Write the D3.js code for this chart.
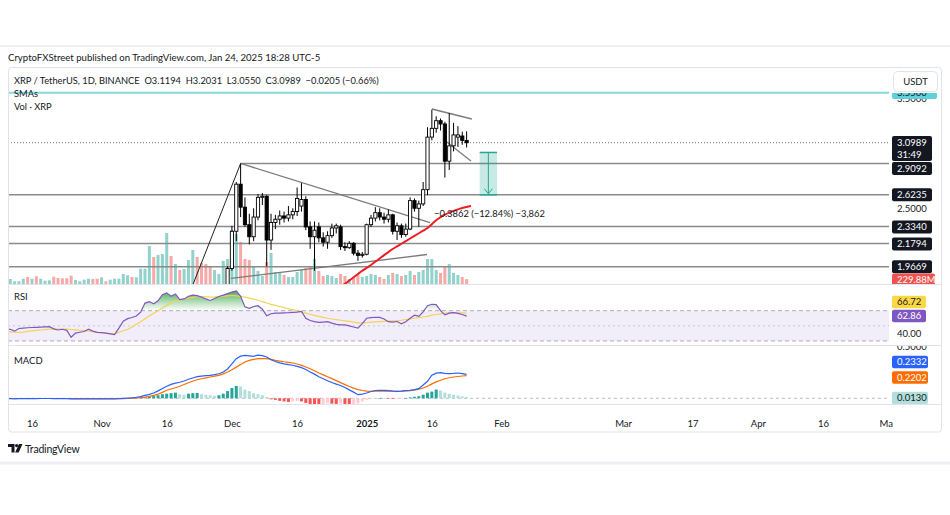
<!DOCTYPE html>
<html><head><meta charset="utf-8">
<script src="https://d3js.org/d3.v7.min.js"></script>
<style>
html,body{margin:0;padding:0;background:#fff;overflow:hidden}
svg{display:block}
text{font-family:Lato,"Noto Sans",sans-serif}
</style></head><body>
<svg id="chart" width="950" height="515"></svg>
<script>
// ---------------- DATA ----------------
const baseDate = "2024-10-10";               // first day of daily series below
const volumes = [250,
 235,127,127,249,329,249,362,249,155,174,
 343,282,268,268,390,188,127,202,249,235,
 249,315,127,202,249,249,470,409,329,315,
 719,719,1786,1269,1363,1410,2397,1316,940,658,
 705,1128,1598,1269,987,940,846,658,470,1081,
 1175,2540,
 2350,1975,1175,1130,846,611,376,1034,1457,564,
 517,423,329,329,564,658,752,846,1175,611,
 376,423,376,282,470,376,235,282,423,329,
 376,470,423,329,235,423,517,470,376,423,
 611,423,564,658,1175,1175,658,517,846,940,
 517,423,329,229.88];
const volDir = "u" + "uuuududuuu" + "ddddduuuud" + "duduuuuudu" + "uuuduuudud" + "uuudddduuu" + "uu" +
  "uddduuuduu" + "uduuuuddud" + "duuudduddu" + "uuuddududu" + "uduuuuuddu" + "uudd";

const candleStart = "2024-11-28";
const opens  = [1.47,1.51,1.73, 1.95,2.29,2.72,2.51,2.35,2.24,2.42,2.60,2.61,2.21,2.37,2.40,2.43,2.41,2.44,2.47,2.52,2.58,2.33,2.24,2.33,2.23,2.19,2.25,2.32,2.33,2.15,2.14,2.18,2.09,2.07,
  2.08,2.35,2.41,2.46,2.42,2.40,2.44,2.29,2.34,2.26,2.31,2.57,2.50,2.54,2.67,3.15,3.23,3.30,3.27,2.93,3.07,3.15,3.16,3.1194];
const highs  = [1.54,1.78,1.97, 2.34,2.74,2.909,2.60,2.45,2.50,2.63,2.64,2.62,2.45,2.44,2.48,2.47,2.52,2.50,2.69,2.73,2.61,2.38,2.38,2.37,2.28,2.29,2.36,2.36,2.35,2.19,2.20,2.19,2.12,2.10,
  2.36,2.44,2.51,2.50,2.46,2.49,2.45,2.37,2.36,2.36,2.60,2.59,2.57,2.74,3.24,3.40,3.34,3.32,3.29,3.37,3.28,3.25,3.20,3.2031];
const lows   = [1.43,1.50,1.71, 1.93,2.20,2.42,2.33,2.17,2.20,2.39,2.53,1.97,2.12,2.31,2.35,2.37,2.38,2.40,2.43,2.47,2.30,2.13,1.93,2.19,2.15,2.13,2.23,2.27,2.12,2.11,2.13,2.07,2.02,2.05,
  2.07,2.33,2.38,2.39,2.36,2.37,2.26,2.21,2.23,2.24,2.30,2.47,2.33,2.52,2.62,3.12,3.19,3.21,2.78,2.85,3.02,3.06,3.08,3.0550];
const closes = [1.51,1.73,1.95, 2.29,2.72,2.51,2.35,2.24,2.42,2.60,2.61,2.21,2.37,2.40,2.43,2.41,2.44,2.47,2.59,2.58,2.33,2.24,2.30,2.23,2.19,2.25,2.32,2.34,2.15,2.14,2.18,2.09,2.07,2.08,
  2.35,2.41,2.46,2.42,2.40,2.44,2.29,2.34,2.26,2.31,2.57,2.50,2.54,2.67,3.15,3.23,3.30,3.27,2.93,3.07,3.17,3.17,3.12,3.0989];

const smaStart = "2024-12-26";
const smaValues = [1.79,1.81,1.84,1.87,1.90,1.93,1.955,1.982,2.012,2.042,2.072,2.10,2.128,2.152,2.176,2.20,2.224,2.248,2.272,2.296,2.32,2.355,2.39,2.42,2.442,2.46,2.476,2.49,2.502,2.512,2.521];

const rsiValues = [44.5,45.5,43,46.5,47,47.5,47.8,48,48.3,48.7,
 49,46,44.5,45.5,44,35,40.5,41.5,42.5,45.5,
 43,41.5,41,40.5,39.5,38.5,47,56,59.5,61,
 63,68,80,82,79,83,91,93.5,89,92,
 84.5,85.5,89,90.5,89.8,88,85.5,83.5,86,88.7,
 90.5,92.5,94.5,96,89,75,73,75.5,76.5,72,
 63.2,66,66.7,66.7,67,67.3,67.7,68,69,60,
 57,55.5,54.5,55,55.5,53.5,52,51.3,51.3,50,
 48.5,47,53,60,60.8,61.3,61.2,59,55.5,55,
 55.7,52.8,55.5,60,64,62.5,68.5,76.5,78.5,78,
 70,64.5,66.8,67.5,66.5,65,62.86];
const rsiMaValues = [42.5,42,41.6,41.2,41.8,42.6,43.4,44,44.5,45.1,
 45.6,45.6,45.6,45.6,45.6,45.2,44.7,44.2,43.6,42.9,
 42.2,41.5,40.9,40.4,39.9,39.5,41.5,43.5,45.3,48.5,
 52,55.5,59.5,63,66.5,70,73.5,77,80.5,82.5,
 84,85.5,86.8,87.6,88.4,88.6,88.3,88,88.2,88.6,
 89.1,89.5,90,89.6,89,88,86.6,85.2,83.8,82,
 80.2,78.4,76.9,75.5,74,72.6,71.3,69.8,68.4,66.8,
 65.3,63.8,62.4,61.2,60,59,58.2,57.4,56.6,55.8,
 55,54,53.8,54.4,54.8,55.1,55.5,55.8,56.1,56.5,
 56.8,57.4,58.3,59.2,60,60.8,61.7,62.6,64.2,65,
 65.8,66.6,67.4,67.6,67.3,67,66.72];

const macdValues = [-0.004,-0.004,-0.005,-0.004,-0.004,-0.003,-0.003,-0.003,-0.002,-0.002,
 -0.002,-0.003,-0.003,-0.004,-0.004,-0.006,-0.006,-0.006,-0.005,-0.005,
 -0.005,-0.005,-0.005,-0.005,-0.005,-0.006,-0.004,-0.001,0.002,0.005,
 0.01,0.017,0.028,0.038,0.052,0.072,0.095,0.117,0.135,0.147,
 0.156,0.168,0.185,0.197,0.21,0.216,0.22,0.223,0.23,0.239,
 0.255,0.285,0.335,0.385,0.41,0.417,0.413,0.408,0.42,0.415,
 0.401,0.375,0.358,0.345,0.335,0.327,0.321,0.31,0.298,0.28,
 0.256,0.235,0.21,0.19,0.17,0.153,0.138,0.124,0.105,0.082,
 0.06,0.035,0.04,0.052,0.066,0.076,0.078,0.078,0.074,0.07,
 0.068,0.07,0.074,0.078,0.085,0.094,0.13,0.165,0.225,0.245,
 0.249,0.242,0.239,0.242,0.246,0.24,0.2332];
const signalValues = [-0.002,-0.002,-0.002,-0.002,-0.002,-0.002,-0.002,-0.002,-0.002,-0.002,
 -0.002,-0.002,-0.002,-0.002,-0.002,-0.003,-0.003,-0.003,-0.003,-0.003,
 -0.003,-0.004,-0.004,-0.004,-0.004,-0.004,-0.004,-0.003,-0.002,0.002,
 0.004,0.007,0.012,0.019,0.028,0.04,0.058,0.078,0.09,0.103,
 0.117,0.134,0.151,0.168,0.18,0.19,0.199,0.207,0.215,0.223,
 0.238,0.255,0.278,0.303,0.328,0.353,0.368,0.378,0.385,0.387,
 0.385,0.378,0.369,0.362,0.355,0.349,0.343,0.333,0.32,0.304,
 0.287,0.268,0.246,0.228,0.209,0.191,0.172,0.152,0.133,0.115,
 0.099,0.084,0.076,0.07,0.068,0.069,0.07,0.071,0.07,0.069,
 0.068,0.069,0.072,0.075,0.08,0.088,0.1,0.117,0.14,0.16,
 0.175,0.19,0.2,0.207,0.212,0.217,0.2202];
const histValues = [-0.003,-0.003,-0.004,-0.003,-0.002,-0.002,-0.003,-0.002,-0.002,-0.001,
 -0.001,-0.002,-0.002,-0.003,-0.003,-0.004,-0.004,-0.003,-0.003,-0.002,
 -0.003,-0.003,-0.002,-0.002,-0.002,-0.003,-0.001,0.002,0.003,0.004,
 0.005,0.008,0.012,0.018,0.022,0.03,0.04,0.045,0.05,0.055,
 0.04,0.035,0.045,0.05,0.052,0.04,0.035,0.03,0.025,0.03,
 0.045,0.07,0.1,0.12,0.115,0.085,0.07,0.05,0.04,0.03,
 0.012,-0.01,-0.015,-0.025,-0.03,-0.035,-0.03,-0.025,-0.03,-0.045,
 -0.055,-0.06,-0.062,-0.055,-0.05,-0.052,-0.055,-0.05,-0.055,-0.06,
 -0.055,-0.05,-0.03,-0.015,-0.008,-0.002,0.003,0.002,-0.003,-0.006,
 -0.004,-0.002,0.002,0.008,0.015,0.02,0.035,0.055,0.065,0.085,
 0.075,0.055,0.045,0.035,0.027,0.019,0.013];

const levels = [2.9092, 2.6235, 2.3340, 2.1794, 1.9669];
const levelStarts = ["2024-12-03", null, null, null, null];
const lastPrice = 3.0989;
const ceilingLevel = 3.5560;
const volumeLabel = "229.88M";
const countdown = "31:49";
const spikeLine = [["2024-11-21", 1.70], ["2024-12-03", 2.9092]];
const triangleUpper = [["2024-12-03", 2.9092], ["2025-01-15T14:00:00Z", 2.368]];
const triangleLower = [["2024-11-30T19:00:00Z", 1.859], ["2025-01-14T21:00:00Z", 2.078]];
const flagUpper = [["2025-01-16", 3.4067], ["2025-01-25T05:00:00Z", 3.3153]];
const flagLower = [["2025-01-18T14:00:00Z", 3.1327], ["2025-01-25T00:00:00Z", 2.9318]];
const measureDates = ["2025-01-27", "2025-01-31"];
const measurePrices = [3.0097, 2.6235];
const measureText = "\u22120.3862 (\u221212.84%) \u22123,862";
const xTickDates = ["2024-10-16","2024-11-01","2024-11-16","2024-12-01","2024-12-16","2025-01-01","2025-01-16","2025-02-01","2025-03-01","2025-03-17","2025-04-01","2025-04-16","2025-05-01"];
const xTickLabels = ["16","Nov","16","Dec","16","2025","16","Feb","Mar","17","Apr","16","May"];
const titleText = "CryptoFXStreet published on TradingView.com, Jan 24, 2025 18:28 UTC-5";
const headerText = "XRP / TetherUS, 1D, BINANCE  O3.1194  H3.2031  L3.0550  C3.0989  \u22120.0205 (\u22120.66%)";

// ---------------- LAYOUT ----------------
const P = d3.isoParse;
const svg = d3.select("#chart");
const TXT = "#131722";
const L = 8, R = 889;
const mainTop = 68, mainBot = 284, rsiTop = 284, rsiBot = 345, macdTop = 345, macdBot = 404, frameBot = 432;

const x = d3.scaleUtc().domain([P("2024-10-16"), P("2025-04-16")]).range([32, 823]);
const y = d3.scaleLinear().domain([1.8085, 3.7811]).range([mainBot, mainTop]);
const yVol = d3.scaleLinear().domain([0, 2585]).range([mainBot, mainBot - 55]);
const yRsi = d3.scaleLinear().domain([24.72, 105.2]).range([rsiBot, rsiTop]);
const yMacd = d3.scaleLinear().domain([-0.0553, 0.518]).range([macdBot, macdTop]);

const days = d3.range(volumes.length).map(i => d3.utcDay.offset(P(baseDate), i));
const candles = opens.map((o, i) => ({d: d3.utcDay.offset(P(candleStart), i), o, h: highs[i], l: lows[i], c: closes[i]}));

// background
svg.append("rect").attr("width", 950).attr("height", 515).attr("fill", "#fff");
svg.append("line").attr("x1", 0).attr("x2", 950).attr("y1", 46).attr("y2", 46).attr("stroke", "#eeeff3").attr("stroke-width", 2);
svg.append("line").attr("x1", 0).attr("x2", 950).attr("y1", 463).attr("y2", 463).attr("stroke", "#eeeff3").attr("stroke-width", 3);
svg.append("text").attr("x", 8).attr("y", 61).attr("font-size", 9.6).attr("fill", TXT).text(titleText);
svg.append("rect").attr("x", 8.5).attr("y", 67.5).attr("width", 933).attr("height", frameBot - 67.5)
  .attr("rx", 3).attr("fill", "#fff").attr("stroke", "#e0e3eb");

const defs = svg.append("defs");
function clip(id, x0, y0, w, h) { defs.append("clipPath").attr("id", id).append("rect").attr("x", x0).attr("y", y0).attr("width", w).attr("height", h); }
clip("cMain", L + 1, mainTop + 1, R - L - 1, mainBot - mainTop - 1);
clip("cRsi", L + 1, rsiTop + 1, R - L - 1, rsiBot - rsiTop - 1);
clip("cMacd", L + 1, macdTop + 1, R - L - 1, macdBot - macdTop - 1);
clip("cTime", L + 1, macdBot, 892 - L, frameBot - macdBot);
clip("cAxMain", R + 1, 93, 941 - R, mainBot - 93);
clip("cAxMacd", R + 1, macdTop + 1, 941 - R, macdBot - macdTop - 1);

// separators
[mainBot, rsiBot, macdBot].forEach(v => svg.append("line").attr("x1", L + 0.5).attr("x2", 941.5)
  .attr("y1", v + 0.5).attr("y2", v + 0.5).attr("stroke", "#e0e3eb"));

// ---------------- MAIN PANE ----------------
const gMain = svg.append("g").attr("clip-path", "url(#cMain)");
gMain.selectAll("rect.vol").data(volumes).join("rect").attr("class", "vol")
  .attr("x", (v, i) => x(days[i]) - 1.5).attr("width", 3)
  .attr("y", v => yVol(v)).attr("height", v => mainBot - yVol(v))
  .attr("fill", (v, i) => volDir[i] === "u" ? "rgba(38,166,154,0.5)" : "rgba(239,83,80,0.5)");

levels.forEach((lv, k) => {
  gMain.append("line").attr("x1", levelStarts[k] ? x(P(levelStarts[k])) : L).attr("x2", R)
    .attr("y1", y(lv)).attr("y2", y(lv)).attr("stroke", "#8a8a8a").attr("stroke-width", 1.5);
});
gMain.append("line").attr("x1", L).attr("x2", R).attr("y1", y(ceilingLevel)).attr("y2", y(ceilingLevel))
  .attr("stroke", "#84d6df").attr("stroke-width", 2);
gMain.append("line").attr("x1", L).attr("x2", R).attr("y1", y(lastPrice)).attr("y2", y(lastPrice))
  .attr("stroke", "#787b86").attr("stroke-width", 1).attr("stroke-dasharray", "1,2");

const seg = d3.line().x(d => x(P(d[0]))).y(d => y(d[1]));
[triangleUpper, triangleLower, flagUpper, flagLower].forEach(s =>
  gMain.append("path").attr("d", seg(s)).attr("fill", "none").attr("stroke", "#7b7b7b").attr("stroke-width", 1.3));
gMain.append("path").attr("d", seg(spikeLine)).attr("fill", "none").attr("stroke", "#222").attr("stroke-width", 1);

// candles
const cg = gMain.append("g");
cg.selectAll("line.wick").data(candles).join("line").attr("class", "wick")
  .attr("x1", d => x(d.d)).attr("x2", d => x(d.d)).attr("y1", d => y(d.h)).attr("y2", d => y(d.l))
  .attr("stroke", "#000").attr("stroke-width", 1);
cg.selectAll("rect.body").data(candles).join("rect").attr("class", "body")
  .attr("x", d => x(d.d) - 1.6).attr("width", 3.2)
  .attr("y", d => y(Math.max(d.o, d.c))).attr("height", d => Math.max(1, Math.abs(y(d.o) - y(d.c))))
  .attr("fill", d => d.c >= d.o ? "#fff" : "#000").attr("stroke", "#000").attr("stroke-width", 0.9);

// SMA
const smaLine = d3.line().x((v, i) => x(d3.utcDay.offset(P(smaStart), i))).y(v => y(v)).curve(d3.curveMonotoneX);
gMain.append("path").attr("d", smaLine(smaValues)).attr("fill", "none").attr("stroke", "#ee1c25").attr("stroke-width", 2);

// measure tool
const mx0 = x(P(measureDates[0])), mx1 = x(P(measureDates[1]));
const my0 = y(measurePrices[0]), my1 = y(measurePrices[1]);
gMain.append("rect").attr("x", mx0).attr("y", my0).attr("width", mx1 - mx0).attr("height", my1 - my0).attr("fill", "rgba(0,160,140,0.22)");
[my0, my1].forEach(v => gMain.append("line").attr("x1", mx0).attr("x2", mx1).attr("y1", v).attr("y2", v).attr("stroke", "#2aa58f").attr("stroke-width", 1.5));
const mcx = (mx0 + mx1) / 2;
gMain.append("line").attr("x1", mcx).attr("x2", mcx).attr("y1", my0).attr("y2", my1 - 1).attr("stroke", "#2aa58f").attr("stroke-width", 1);
gMain.append("path").attr("d", `M${mcx - 4},${my1 - 6}L${mcx},${my1 - 1}L${mcx + 4},${my1 - 6}`).attr("fill", "none").attr("stroke", "#2aa58f").attr("stroke-width", 1);
svg.append("text").attr("x", 434).attr("y", 216.5).attr("font-size", 9.4).attr("fill", TXT).text(measureText);

// header texts
svg.append("text").attr("x", 14).attr("y", 83.5).attr("font-size", 9.3).attr("fill", TXT).attr("xml:space", "preserve").style("white-space", "pre").text(headerText);
svg.append("text").attr("x", 14).attr("y", 96.5).attr("font-size", 9.3).attr("fill", TXT).text("SMAs");
svg.append("text").attr("x", 14).attr("y", 110).attr("font-size", 9.3).attr("fill", TXT).text("Vol \u00b7 XRP");

// ---------------- RSI PANE ----------------
const gR = svg.append("g").attr("clip-path", "url(#cRsi)");
gR.append("rect").attr("x", L).attr("width", R - L).attr("y", yRsi(70)).attr("height", yRsi(30) - yRsi(70)).attr("fill", "rgba(126,87,194,0.1)");
[[70, "4,3", 0.6], [50, "2,3", 0.35], [30, "4,3", 0.6]].forEach(([v, da, op]) =>
  gR.append("line").attr("x1", L).attr("x2", R).attr("y1", yRsi(v)).attr("y2", yRsi(v))
    .attr("stroke", "#787b86").attr("stroke-opacity", op).attr("stroke-dasharray", da));
const grad = defs.append("linearGradient").attr("id", "obGrad").attr("gradientUnits", "userSpaceOnUse")
  .attr("x1", 0).attr("x2", 0).attr("y1", yRsi(98)).attr("y2", yRsi(70));
grad.append("stop").attr("offset", 0).attr("stop-color", "#2e9e3f").attr("stop-opacity", 0.95);
grad.append("stop").attr("offset", 1).attr("stop-color", "#4caf50").attr("stop-opacity", 0);
const obArea = d3.area().x((v, i) => x(days[i])).y0(yRsi(70)).y1(v => yRsi(Math.max(v, 70)));
gR.append("path").attr("d", obArea(rsiValues)).attr("fill", "url(#obGrad)");
const rsiLine = d3.line().x((v, i) => x(days[i])).y(v => yRsi(v));
gR.append("path").attr("d", rsiLine(rsiMaValues)).attr("fill", "none").attr("stroke", "#f3d25a").attr("stroke-width", 1.2);
gR.append("path").attr("d", rsiLine(rsiValues)).attr("fill", "none").attr("stroke", "#7e57c2").attr("stroke-width", 1.2);
svg.append("text").attr("x", 14).attr("y", 299.5).attr("font-size", 9.5).attr("fill", TXT).text("RSI");

// ---------------- MACD PANE ----------------
const gM = svg.append("g").attr("clip-path", "url(#cMacd)");
gM.append("line").attr("x1", L).attr("x2", R).attr("y1", yMacd(0)).attr("y2", yMacd(0))
  .attr("stroke", "#787b86").attr("stroke-opacity", 0.5).attr("stroke-dasharray", "3,3");
gM.selectAll("rect.h").data(histValues).join("rect").attr("class", "h")
  .attr("x", (v, i) => x(days[i]) - 1.5).attr("width", 3)
  .attr("y", v => Math.min(yMacd(v), yMacd(0))).attr("height", v => Math.max(0.6, Math.abs(yMacd(v) - yMacd(0))))
  .attr("fill", (v, i) => {
    const p = i > 0 ? histValues[i - 1] : v;
    return v >= 0 ? (v >= p ? "#26a69a" : "#b2dfdb") : (v <= p ? "#ff5252" : "#ffcdd2");
  });
const mLine = d3.line().x((v, i) => x(days[i])).y(v => yMacd(v));
gM.append("path").attr("d", mLine(signalValues)).attr("fill", "none").attr("stroke", "#ff6d00").attr("stroke-width", 1.2);
gM.append("path").attr("d", mLine(macdValues)).attr("fill", "none").attr("stroke", "#2962ff").attr("stroke-width", 1.2);
svg.append("text").attr("x", 14).attr("y", 363.5).attr("font-size", 9.5).attr("fill", TXT).text("MACD");

// ---------------- TIME AXIS ----------------
const xAxis = d3.axisBottom(x).tickValues(xTickDates.map(d => P(d))).tickFormat((d, i) => xTickLabels[i]).tickSize(0).tickPadding(0);
const gxWrap = svg.append("g").attr("clip-path", "url(#cTime)");
const gx = gxWrap.append("g").attr("transform", "translate(0,420)").call(xAxis);
gx.select(".domain").remove();
gx.selectAll("text").attr("font-size", 9.5).attr("font-family", 'Lato,"Noto Sans",sans-serif').attr("fill", TXT)
  .attr("font-weight", (d, i) => xTickLabels[i] === "2025" ? 700 : 400);

// ---------------- PRICE AXIS ----------------
function tag(g, yc, txt, bg, fg, w, h = 12.5) {
  g.append("rect").attr("x", 892).attr("y", yc - h / 2).attr("width", w).attr("height", h).attr("rx", 2).attr("fill", bg);
  g.append("text").attr("x", 897).attr("y", yc + 3.3).attr("font-size", 9.5).attr("fill", fg).text(txt);
}
const gAx = svg.append("g").attr("clip-path", "url(#cAxMain)");
const yAxis = d3.axisRight(y).tickValues([2.5, 3.5]).tickFormat(d3.format(".4f")).tickSize(0).tickPadding(0);
const gy = gAx.append("g").attr("transform", "translate(897,0)").call(yAxis);
gy.select(".domain").remove();
gy.selectAll("text").attr("font-size", 9.5).attr("font-family", 'Lato,"Noto Sans",sans-serif').attr("fill", TXT);
tag(gAx, y(ceilingLevel), d3.format(".4f")(ceilingLevel), "#5fd0dc", TXT, 45);
// last price + countdown
gAx.append("rect").attr("x", 892).attr("y", y(lastPrice) - 6.7).attr("width", 40).attr("height", 25).attr("rx", 2).attr("fill", "#131722");
gAx.append("text").attr("x", 897).attr("y", y(lastPrice) + 3.3).attr("font-size", 9.5).attr("fill", "#fff").text(d3.format(".4f")(lastPrice));
gAx.append("text").attr("x", 897).attr("y", y(lastPrice) + 15).attr("font-size", 9.5).attr("fill", "#fff").text(countdown);
const tagShift = [5, 0, 0.5, 0.5, 0];
levels.forEach((lv, k) => tag(gAx, y(lv) + tagShift[k], d3.format(".4f")(lv), "#131722", "#fff", 40, 13));
tag(gAx, yVol(229.88) + 1, volumeLabel, "#ef5350", "#fff", 43, 13);

// RSI axis
const gRa = svg.append("g");
const rAxis = d3.axisRight(yRsi).tickValues([40]).tickFormat(d3.format(".2f")).tickSize(0).tickPadding(0);
const gra = gRa.append("g").attr("transform", "translate(897,0)").call(rAxis);
gra.select(".domain").remove();
gra.selectAll("text").attr("font-size", 9.5).attr("font-family", 'Lato,"Noto Sans",sans-serif').attr("fill", TXT);
const rsiLast = rsiValues[rsiValues.length - 1], rsiMaLast = rsiMaValues[rsiMaValues.length - 1];
tag(gRa, yRsi(rsiLast), d3.format(".2f")(rsiLast), "#7e57c2", "#fff", 34);
tag(gRa, yRsi(rsiLast) - 14, d3.format(".2f")(rsiMaLast), "#fdd744", TXT, 34);

// MACD axis
const gMa = svg.append("g").attr("clip-path", "url(#cAxMacd)");
const mAxis = d3.axisRight(yMacd).tickValues([0.5]).tickFormat(d3.format(".4f")).tickSize(0).tickPadding(0);
const gma = gMa.append("g").attr("transform", "translate(897,0)").call(mAxis);
gma.select(".domain").remove();
gma.selectAll("text").attr("font-size", 9.5).attr("font-family", 'Lato,"Noto Sans",sans-serif').attr("fill", TXT);
const macdLast = macdValues[macdValues.length - 1], sigLast = signalValues[signalValues.length - 1], histLast = histValues[histValues.length - 1];
tag(gMa, yMacd(macdLast) - 12.3, d3.format(".4f")(macdLast), "#2962ff", "#fff", 36);
tag(gMa, yMacd(sigLast) + 1.9, d3.format(".4f")(sigLast), "#ff6d00", "#fff", 36);
tag(gMa, yMacd(histLast) + 1, d3.format(".4f")(histLast), "#b2dfdb", TXT, 36);

// USDT button
svg.append("rect").attr("x", 893.5).attr("y", 71.5).attr("width", 44).attr("height", 20).attr("rx", 4).attr("fill", "#fff").attr("stroke", "#e0e3eb");
svg.append("text").attr("x", 915.5).attr("y", 85).attr("text-anchor", "middle").attr("font-size", 9.5).attr("fill", TXT).text("USDT");

// TradingView brand
const logo = svg.append("g").attr("transform", "translate(8,444)");
logo.append("path").attr("d", "M0 0H6.5V8.5H3.5V3H0Z").attr("fill", TXT);
logo.append("circle").attr("cx", 8.6).attr("cy", 1.6).attr("r", 1.6).attr("fill", TXT);
logo.append("path").attr("d", "M11 0H14.5L10.6 8.5H7.1Z").attr("fill", TXT);
svg.append("text").attr("x", 25).attr("y", 452.5).attr("font-size", 10.5).attr("fill", TXT).attr("letter-spacing", -0.2).text("TradingView");
</script>
</body></html>
